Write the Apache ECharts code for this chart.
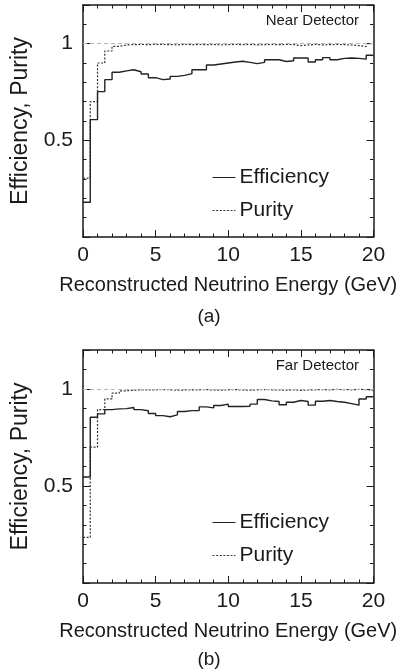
<!DOCTYPE html>
<html>
<head>
<meta charset="utf-8">
<script src="https://cdn.jsdelivr.net/npm/echarts@6/dist/echarts.min.js"></script>
<style>
html,body{margin:0;padding:0;background:#fff;}
#c{width:402px;height:672px;}
</style>
</head>
<body>
<div id="c"></div>
<script>
// Bin left edges (GeV), 0.5 GeV bins
var binLeft = [0,0.5,1,1.5,2,2.5,3,3.5,4,4.5,5,5.5,6,6.5,7,7.5,8,8.5,9,9.5,
               10,10.5,11,11.5,12,12.5,13,13.5,14,14.5,15,15.5,16,16.5,17,17.5,18,18.5,19,19.5];
var binEnd = 20;

var nearEfficiency = [0.18,0.607,0.752,0.814,0.852,0.859,0.865,0.855,0.843,0.824,
                      0.814,0.817,0.831,0.836,0.845,0.865,0.865,0.89,0.895,0.90,
                      0.905,0.909,0.903,0.897,0.903,0.917,0.917,0.908,0.912,0.926,
                      0.926,0.905,0.917,0.928,0.917,0.924,0.926,0.924,0.92,0.94];
var nearPurity = [0.305,0.70,0.90,0.962,0.986,0.993,0.995,0.996,0.995,0.996,
                  0.996,0.995,0.994,0.996,0.995,0.996,0.995,0.996,0.994,0.995,
                  0.996,0.995,0.996,0.994,0.995,0.996,0.995,0.996,0.995,0.99,
                  0.993,0.996,0.994,0.995,0.996,0.995,0.993,0.99,0.985,1.0];
var farEfficiency = [0.546,0.854,0.871,0.893,0.897,0.898,0.904,0.893,0.887,0.873,
                     0.862,0.856,0.866,0.883,0.888,0.888,0.907,0.902,0.914,0.921,
                     0.909,0.909,0.91,0.921,0.945,0.938,0.935,0.918,0.931,0.94,
                     0.935,0.916,0.936,0.94,0.935,0.931,0.924,0.916,0.948,0.959];
var farPurity = [0.235,0.70,0.893,0.948,0.978,0.99,0.993,0.995,0.994,0.995,
                 0.996,0.995,0.993,0.994,0.995,0.995,0.996,0.994,0.993,0.995,
                 0.996,0.994,0.993,0.995,0.996,0.995,0.994,0.993,0.995,0.992,
                 0.994,0.995,0.996,0.995,0.997,0.996,0.995,0.997,0.996,0.993];

var yLabels = {'0.5':'0.5','1':'1'};
var xTitle = 'Reconstructed Neutrino Energy (GeV)';
var yTitle = 'Efficiency, Purity';
var panelNames = ['Near Detector','Far Detector'];
var panelTags = ['(a)','(b)'];
var seriesNames = ['Efficiency','Purity'];

var FONT = '"Liberation Sans", Arial, Helvetica, sans-serif';
var INK = '#1a1a1a';

function hist(vals){
  var d = binLeft.map(function(x,i){return [x, vals[i]];});
  d.push([binEnd, vals[vals.length-1]]);
  return d;
}

var grids = [
  {left:83, top:5, width:290.5, height:232},
  {left:83, top:350, width:290.5, height:233}
];

function xAx(g, pos){
  return {
    type:'value', gridIndex:g, position:pos, min:0, max:20, interval:5,
    axisLine:{show:true, onZero:false, lineStyle:{color:INK, width:1.5}},
    axisTick:{show:true, inside:true, length:7, lineStyle:{color:INK, width:1}},
    minorTick:{show:true, splitNumber:5, length:3.5, lineStyle:{color:INK, width:1}},
    splitLine:{show:false}, minorSplitLine:{show:false},
    axisLabel:{show: pos==='bottom', fontSize:21, color:INK, fontFamily:FONT, margin:8},
    name: pos==='bottom' ? xTitle : '',
    nameLocation:'middle', nameGap:38,
    nameTextStyle:{fontSize:20, color:INK, fontFamily:FONT}
  };
}
function yAx(g, pos){
  return {
    type:'value', gridIndex:g, position:pos, min:0, max:1.2, interval:0.5,
    axisLine:{show:true, onZero:false, lineStyle:{color:INK, width:1.5}},
    axisTick:{show:true, inside:true, length:7, lineStyle:{color:INK, width:1}},
    minorTick:{show:true, splitNumber:5, length:3.5, lineStyle:{color:INK, width:1}},
    splitLine:{show:false}, minorSplitLine:{show:false},
    axisLabel:{show: pos==='left', fontSize:21, color:INK, fontFamily:FONT, margin:10,
      formatter:function(v){ var k = String(Math.round(v*10)/10); return yLabels[k] || ''; }},
    name: pos==='left' ? yTitle : '',
    nameLocation:'middle', nameGap:51, nameRotate:90,
    nameTextStyle:{fontSize:23, color:INK, fontFamily:FONT}
  };
}

var xAxes = [xAx(0,'bottom'), xAx(0,'top'), xAx(1,'bottom'), xAx(1,'top')];
var yAxes = [yAx(0,'left'), yAx(0,'right'), yAx(1,'left'), yAx(1,'right')];

function effSeries(vals, ax){
  return {
    name:seriesNames[0], type:'line', step:'end', xAxisIndex:ax, yAxisIndex:ax,
    data:hist(vals), symbol:'none', animation:false, silent:true,
    lineStyle:{color:'#222', width:1.4}, itemStyle:{color:'#222'}, z:3
  };
}
function purSeries(vals, ax){
  return {
    name:seriesNames[1], type:'line', step:'end', xAxisIndex:ax, yAxisIndex:ax,
    data:hist(vals), symbol:'none', animation:false, silent:true,
    lineStyle:{color:'#333', width:1.2, type:[2,1.6]}, itemStyle:{color:'#333'}, z:2,
    markLine:{silent:true, symbol:'none', animation:false, label:{show:false},
      lineStyle:{color:'#b5b5b5', width:1, type:[4,3]},
      data:[{yAxis:1}]}
  };
}

function legend(top){
  return {
    orient:'vertical', left:207, top:top, itemWidth:23, itemHeight:14, itemGap:12,
    selectedMode:false,
    itemStyle:{opacity:0},
    lineStyle:{width:1},
    textStyle:{fontSize:21, color:INK, fontFamily:FONT, padding:[0,0,0,-1]},
    data:seriesNames.slice()
  };
}

var chart = echarts.init(document.getElementById('c'), null, {renderer:'canvas'});
chart.setOption({
  backgroundColor:'#fff',
  animation:false,
  grid:grids,
  xAxis:xAxes,
  yAxis:yAxes,
  legend:[legend(162), legend(507)],
  graphic:[
    {type:'text', style:{text:panelNames[0], x:359, y:21, align:'right', verticalAlign:'middle', fontSize:15, fill:INK, fontFamily:FONT}},
    {type:'text', style:{text:panelNames[1], x:359, y:366, align:'right', verticalAlign:'middle', fontSize:15, fill:INK, fontFamily:FONT}},
    {type:'text', style:{text:panelTags[0], x:209, y:317, align:'center', verticalAlign:'middle', fontSize:19, fill:INK, fontFamily:FONT}},
    {type:'text', style:{text:panelTags[1], x:209, y:660, align:'center', verticalAlign:'middle', fontSize:19, fill:INK, fontFamily:FONT}}
  ],
  series:[
    effSeries(nearEfficiency,0), purSeries(nearPurity,0),
    effSeries(farEfficiency,2), purSeries(farPurity,2)
  ]
});
</script>
</body>
</html>
